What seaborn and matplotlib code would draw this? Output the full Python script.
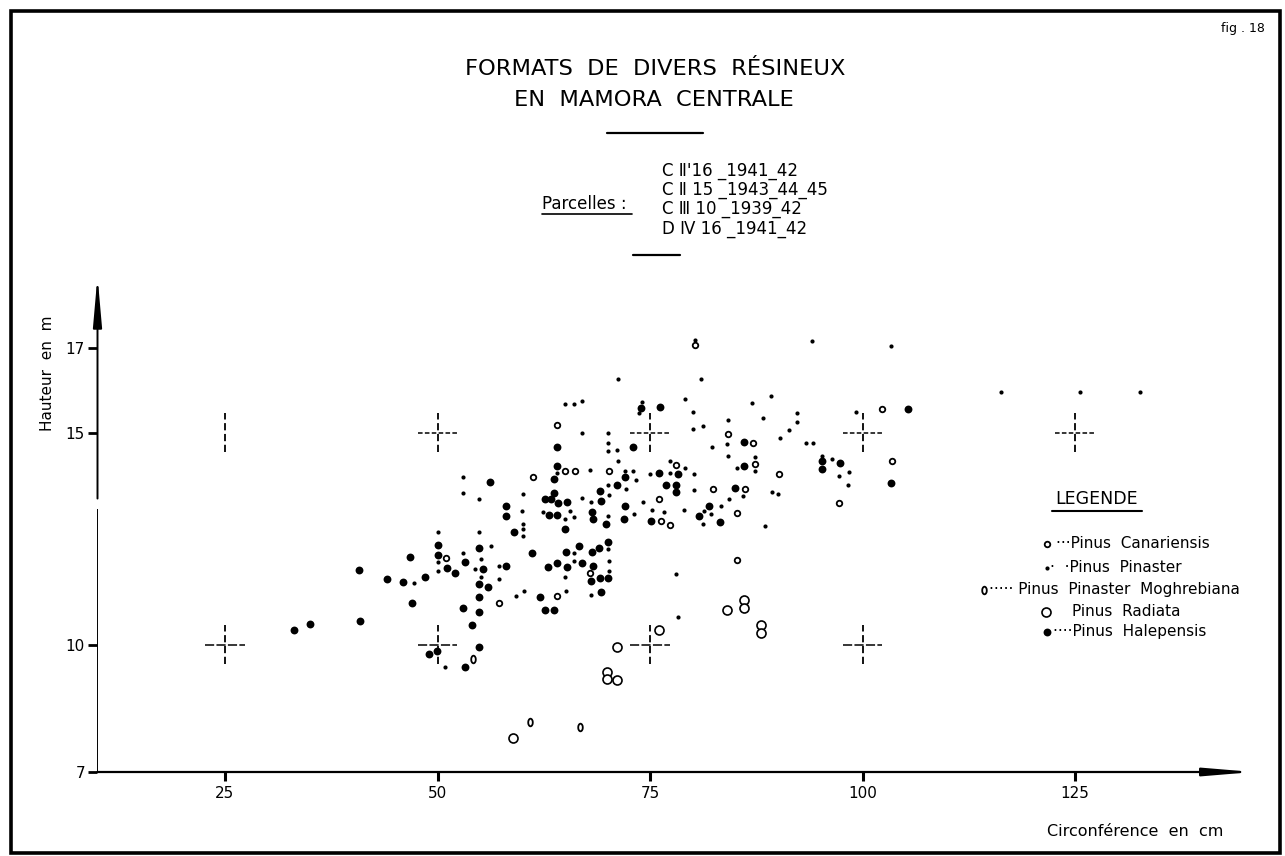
import numpy as np
import pandas as pd
import matplotlib
matplotlib.use("Agg")
import matplotlib.pyplot as plt
from matplotlib.path import Path
from matplotlib.transforms import Affine2D
from matplotlib.patches import Rectangle
import seaborn as sns

sns.set_theme(style="white")
plt.rcParams["font.family"] = ["DejaVu Sans"]
plt.rcParams.update({
    "text.color": "black",
    "axes.labelcolor": "black",
    "xtick.color": "black",
    "ytick.color": "black",
})

# ---- measurements: circumference (cm) and height (m) per species ----
halepensis_x = [33.1, 35.0, 40.9, 40.8, 44.0, 45.9, 48.5, 46.8, 47.0, 50.0, 50.0, 51.1, 52.1, 53.2,
                54.9, 54.9, 54.9, 53.0, 54.9, 54.1, 54.9, 49.0, 49.9, 53.2,
                64.0, 64.0, 71.1, 69.1, 69.2, 63.7, 63.7, 62.6, 63.3, 64.2, 65.2, 63.1, 64.1, 68.2,
                68.3, 69.8, 65.0, 59.0, 58.1, 58.1, 56.2, 55.3, 55.9, 58.1, 62.0, 62.6, 63.7, 61.1,
                63.0, 64.1, 65.1, 66.7, 65.2, 67.0, 68.2, 69.0, 70.1, 68.3, 68.0, 69.1, 70.1, 69.2,
                73.9, 76.2, 73.0, 72.1, 76.1, 78.3, 76.9, 78.1, 78.1, 72.1, 81.9, 80.8, 83.2, 71.9,
                75.1, 86.1, 86.1, 85.0, 95.2, 95.2, 97.3, 105.3, 103.3]
halepensis_y = [10.35, 10.48, 10.56, 11.76, 11.56, 11.49, 11.59, 12.08, 10.99, 12.35, 12.12, 11.81, 11.69, 11.95,
                12.29, 11.43, 11.13, 10.87, 10.77, 10.46, 9.96, 9.78, 9.85, 9.48,
                14.67, 14.22, 13.78, 13.63, 13.39, 13.90, 13.58, 13.45, 13.44, 13.35, 13.36, 13.06, 13.06, 13.13,
                12.96, 12.85, 12.73, 12.65, 13.27, 13.05, 13.85, 11.78, 11.37, 11.86, 11.13, 10.83, 10.83, 12.16,
                11.83, 11.94, 12.18, 12.34, 11.83, 11.94, 12.19, 12.29, 12.42, 11.86, 11.51, 11.57, 11.57, 11.25,
                15.59, 15.61, 14.67, 13.95, 14.06, 14.04, 13.76, 13.76, 13.60, 13.28, 13.28, 13.04, 12.89, 12.97,
                12.93, 14.78, 14.22, 13.69, 14.33, 14.14, 14.28, 15.56, 13.81]

pinaster_x = [47.2, 50.0, 53.0, 53.0, 54.9, 50.1, 50.0, 53.0, 54.4, 54.9, 50.9,
              65.0, 66.1, 67.0, 67.0, 70.1, 70.1, 70.1, 71.1, 71.2, 64.0, 67.9, 70.1, 70.2, 68.1,
              67.0, 65.6, 62.4, 65.0, 66.1, 70.1, 60.1, 59.9, 60.0, 60.0, 60.0, 56.3, 55.1, 55.1,
              57.2, 57.2, 59.2, 60.2, 65.1, 66.0, 66.0, 70.1, 65.0, 70.2, 70.2, 68.0,
              80.3, 71.2, 81.0, 74.1, 73.7, 79.1, 80.1, 80.1, 81.2, 82.3, 72.1, 73.0, 73.4, 75.0,
              77.4, 77.4, 79.1, 80.2, 80.2, 72.2, 74.2, 75.2, 76.7, 79.0, 81.3, 82.2, 81.2, 73.1,
              78.1, 78.3,
              94.1, 89.2, 87.0, 84.2, 88.3, 92.3, 92.3, 91.4, 99.2, 90.3, 84.0, 84.2, 93.3, 94.2,
              87.3, 87.3, 85.2, 85.9, 84.3, 89.3, 90.1, 83.3, 88.5, 95.2, 96.4, 97.2, 98.4, 98.3,
              103.3, 116.3, 125.6, 132.6]
pinaster_y = [11.45, 12.66, 13.97, 13.58, 13.44, 11.96, 11.75, 12.16, 11.78, 12.66, 9.48,
              15.68, 15.68, 15.76, 14.99, 15.00, 14.76, 14.57, 14.59, 14.34, 14.06, 14.13, 13.77, 13.54, 13.37,
              13.47, 13.16, 13.13, 12.96, 13.02, 13.04, 13.56, 13.16, 12.85, 12.73, 12.57, 12.34, 12.03, 11.60,
              11.85, 11.55, 11.15, 11.27, 11.26, 12.16, 11.97, 12.26, 11.59, 11.73, 11.98, 11.17,
              17.20, 16.28, 16.27, 15.73, 15.47, 15.80, 15.49, 15.09, 15.16, 14.67, 14.10, 14.10, 13.89, 14.04,
              14.06, 14.33, 14.16, 14.04, 13.65, 13.67, 13.36, 13.19, 13.14, 13.17, 13.16, 13.08, 12.86, 13.08,
              11.68, 10.66,
              17.17, 15.87, 15.71, 15.30, 15.35, 15.46, 15.25, 15.07, 15.50, 14.89, 14.74, 14.45, 14.77, 14.77,
              14.43, 14.10, 14.18, 13.51, 13.45, 13.60, 13.56, 13.28, 12.81, 14.46, 14.38, 13.98, 14.08, 13.78,
              17.05, 15.96, 15.96, 15.96]

canariensis_x = [51.0, 64.0, 65.0, 66.2, 70.2, 61.2, 57.2, 64.0, 67.9, 80.3, 78.1, 82.4, 76.1,
                 76.3, 77.3, 84.2, 87.1, 87.3, 90.2, 86.2, 85.2, 85.2, 97.2, 102.3, 103.5]
canariensis_y = [12.05, 15.18, 14.10, 14.10, 14.10, 13.96, 10.99, 11.15, 11.70, 17.07, 14.23, 13.67, 13.44,
                 12.93, 12.83, 14.98, 14.76, 14.26, 14.04, 13.67, 13.12, 12.01, 13.34, 15.56, 14.33]

moghrebiana_x = [54.2, 60.9, 66.8]
moghrebiana_y = [9.67, 8.18, 8.05]

radiata_x = [84.1, 86.0, 86.0, 88.0, 88.0, 76.1, 71.1, 69.9, 69.9, 71.1, 58.9]
radiata_y = [10.82, 11.06, 10.87, 10.47, 10.27, 10.36, 9.95, 9.36, 9.19, 9.18, 7.80]

# reference crosses on the grid
cross_x = [25, 50, 75, 100, 25, 50, 75, 100, 125]
cross_y = [10, 10, 10, 10, 15, 15, 15, 15, 15]

x_ticks = [25, 50, 75, 100, 125]
y_ticks = [7, 10, 15, 17]

parcel_lines = ["C Ⅱ'16 _1941_42",
                "C Ⅱ 15 _1943_44_45",
                "C Ⅲ 10 _1939_42",
                "D Ⅳ 16 _1941_42"]

# marker styles
oval = Path(Affine2D().scale(0.6, 1.0).transform(Path.unit_circle().vertices), Path.unit_circle().codes)
styles = {
    "Canariensis": dict(marker="o", s=16, color="white", edgecolor="black", linewidth=1.3),
    "Pinaster": dict(marker="o", s=9, color="black", edgecolor="black", linewidth=0),
    "Moghrebiana": dict(marker=oval, s=30, color="white", edgecolor="black", linewidth=1.3),
    "Radiata": dict(marker="o", s=42, color="white", edgecolor="black", linewidth=1.2),
    "Halepensis": dict(marker="o", s=32, color="black", edgecolor="black", linewidth=0),
}
series = {
    "Halepensis": (halepensis_x, halepensis_y),
    "Pinaster": (pinaster_x, pinaster_y),
    "Canariensis": (canariensis_x, canariensis_y),
    "Moghrebiana": (moghrebiana_x, moghrebiana_y),
    "Radiata": (radiata_x, radiata_y),
}

W, H = 1285, 856
fig = plt.figure(figsize=(W / 100, H / 100), dpi=100)
fig.patch.set_facecolor("white")

XMIN, XMAX, YMIN, YMAX = 10, 146, 7, 18.7
ax = fig.add_axes([97.5 / W, (H - 772) / H, (1253.5 - 97.5) / W, (772 - 276) / H])
ax.set_xlim(XMIN, XMAX)
ax.set_ylim(YMIN, YMAX)
ax.patch.set_alpha(0)
for sp in ax.spines.values():
    sp.set_visible(False)

# reference crosses
hw, hh = 2.3, 0.46
for cx, cy in zip(cross_x, cross_y):
    if not (cx == 25 and cy == 15):
        ax.plot([cx - hw, cx + hw], [cy, cy], color="black", lw=1.1,
                linestyle=(0, (6, 1.5)) if cy == 10 else (0, (3, 1.5)))
    ax.plot([cx, cx], [cy - hh, cy + hh], color="black", lw=1.3, linestyle=(0, (4, 2)))

for name, (xs, ys) in series.items():
    df = pd.DataFrame({"circ": xs, "haut": ys})
    sns.scatterplot(data=df, x="circ", y="haut", ax=ax, legend=False, zorder=3, **styles[name])

# axes with arrows
ax.annotate("", xy=(XMAX, YMIN), xytext=(XMIN, YMIN),
            arrowprops=dict(arrowstyle="-|>,head_length=2.4,head_width=0.2", lw=1.6,
                            color="black", shrinkA=0, shrinkB=0))
ax.plot([XMIN, XMIN], [YMIN, 13.2], color="black", lw=1.4, solid_capstyle="butt")
ax.annotate("", xy=(XMIN, YMAX), xytext=(XMIN, 13.45),
            arrowprops=dict(arrowstyle="-|>,head_length=2.5,head_width=0.22", lw=1.4,
                            color="black", shrinkA=0, shrinkB=0))

# tick marks on the axis lines
for xv in x_ticks:
    ax.plot([xv, xv], [YMIN - 0.22, YMIN], color="black", lw=2.2, clip_on=False,
            solid_capstyle="butt", zorder=5)
for yv in y_ticks:
    ax.plot([XMIN - 1.1, XMIN], [yv, yv], color="black", lw=2.0, clip_on=False,
            solid_capstyle="butt", zorder=5)

ax.set_xticks(x_ticks)
ax.set_yticks(y_ticks)
ax.set_xticklabels([str(v) for v in x_ticks])
ax.set_yticklabels([str(v) for v in y_ticks])
ax.tick_params(axis="both", which="major", length=0, labelsize=11, labelcolor="black")
ax.tick_params(axis="x", pad=10)
ax.tick_params(axis="y", pad=9)
ax.set_xlabel("")
ax.set_ylabel("")

# overlay in pixel coordinates for titles, legend and frame
ov = fig.add_axes([0, 0, 1, 1], zorder=-1)
ov.set_xlim(0, W)
ov.set_ylim(H, 0)
ov.axis("off")

ov.add_patch(Rectangle((11, 11), 1269, 842, fill=False, lw=2.6, edgecolor="black"))

ov.text(655, 69, "FORMATS  DE  DIVERS  RÉSINEUX", ha="center", va="center", fontsize=16.2)
ov.text(654, 100, "EN  MAMORA  CENTRALE", ha="center", va="center", fontsize=16.2)
ov.plot([607, 703], [133, 133], color="black", lw=1.6)

for i, line in enumerate(parcel_lines):
    ov.text(662, 171 + i * 19.2, line, ha="left", va="center", fontsize=12)
ov.text(542, 204, "Parcelles :", ha="left", va="center", fontsize=12)
ov.plot([542, 632], [213.5, 213.5], color="black", lw=1.2)
ov.plot([633, 680], [255, 255], color="black", lw=1.6)

ov.text(1243, 28, "fig . 18", ha="center", va="center", fontsize=9)

ov.text(47, 373, "Hauteur  en  m", ha="center", va="center", rotation=90, fontsize=11)
ov.text(1047, 832, "Circonférence  en  cm", ha="left", va="center", fontsize=11.5)

# legend
ov.text(1097, 499, "LEGENDE", ha="center", va="center", fontsize=12.5)
ov.plot([1052, 1142], [511, 511], color="black", lw=1.5)
legend_rows = [
    ("Canariensis", 1046.7, 543.5, 1056, "···Pinus  Canariensis"),
    ("Pinaster", 1046.7, 567.5, 1050, "·  ·Pinus  Pinaster"),
    ("Moghrebiana", 983.5, 589.5, 989, "····· Pinus  Pinaster  Moghrebiana"),
    ("Radiata", 1046.0, 611.5, 1072, "Pinus  Radiata"),
    ("Halepensis", 1047.3, 631.5, 1053, "····Pinus  Halepensis"),
]
for name, mx, my, tx, label in legend_rows:
    ov.scatter([mx], [my], zorder=3, **styles[name])
    ov.text(tx, my, label, ha="left", va="center", fontsize=11)

fig.savefig("out.png", dpi=100, facecolor="white")
